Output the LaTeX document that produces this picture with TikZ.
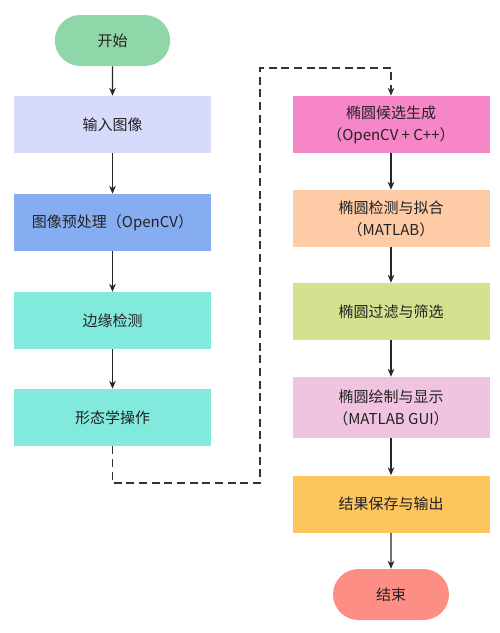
\documentclass[tikz,border=0pt]{standalone}
\usepackage{fontspec}
\setmainfont{Noto Sans CJK SC}
\usetikzlibrary{arrows.meta, positioning, shapes.misc}

\definecolor{cStart}{HTML}{8FD6A8}
\definecolor{cInput}{HTML}{D8DAFB}
\definecolor{cPrep}{HTML}{86ADF2}
\definecolor{cTeal}{HTML}{82EADC}
\definecolor{cCand}{HTML}{F786C8}
\definecolor{cFit}{HTML}{FDCBA6}
\definecolor{cFilt}{HTML}{D4E28F}
\definecolor{cShow}{HTML}{F0C3E0}
\definecolor{cSave}{HTML}{FDC55E}
\definecolor{cStop}{HTML}{FC8E86}
\definecolor{cText}{HTML}{222222}

\begin{document}
\begin{tikzpicture}[
    x=0.75pt, y=-0.75pt,
    font=\fontsize{11.25}{16.5}\selectfont,
    box/.style={rectangle, draw=none, text=cText, align=center,
                minimum width=147.75pt, minimum height=42.75pt, inner sep=0pt},
    term/.style={rounded rectangle, draw=none, text=cText,
                 minimum width=86.5pt, minimum height=38.25pt, inner sep=0pt},
    arr/.style={-{Stealth[length=6pt, width=5pt]}, line width=0.8pt, black!85},
    loopline/.style={-{Stealth[length=6pt, width=5pt]}, line width=0.8pt,
                     black!80, dash pattern=on 6pt off 3.5pt}
]
\useasboundingbox (0,0) rectangle (500,633);
% left column
\node[term, fill=cStart] (start) at (112.5,40.5)  {开始};
\node[box,  fill=cInput] (input) at (112.5,124.5) {输入图像};
\node[box,  fill=cPrep]  (prep)  at (112.5,222.5) {图像预处理（OpenCV）};
\node[box,  fill=cTeal]  (edges) at (112.5,320.5) {边缘检测};
\node[box,  fill=cTeal]  (morph) at (112.5,417.5) {形态学操作};
% right column
\node[box,  fill=cCand]  (cand)  at (391,124.5) {椭圆候选生成\\（OpenCV + C++）};
\node[box,  fill=cFit]   (fit)   at (391,218.5) {椭圆检测与拟合\\（MATLAB）};
\node[box,  fill=cFilt]  (filt)  at (391,311.5) {椭圆过滤与筛选};
\node[box,  fill=cShow, minimum height=45.75pt] (show) at (391,407.5)
  {椭圆绘制与显示\\（MATLAB GUI）};
\node[box,  fill=cSave]  (save)  at (391,504)   {结果保存与输出};
\node[term, fill=cStop, minimum width=87pt] (stop) at (391,594.5) {结束};
\draw[arr] (start) -- (input);
\draw[arr] (input) -- (prep);
\draw[arr] (prep)  -- (edges);
\draw[arr] (edges) -- (morph);
% jump to second column
\coordinate (turnB) at (260,483);
\coordinate (turnT) at (260,68);
\draw[loopline] (morph.south) |- (turnB) -- (turnT) -| (cand.north);
\draw[arr] (cand) -- (fit);
\draw[arr] (fit)  -- (filt);
\draw[arr] (filt) -- (show);
\draw[arr] (show) -- (save);
\draw[arr] (save) -- (stop);
\end{tikzpicture}
\end{document}
